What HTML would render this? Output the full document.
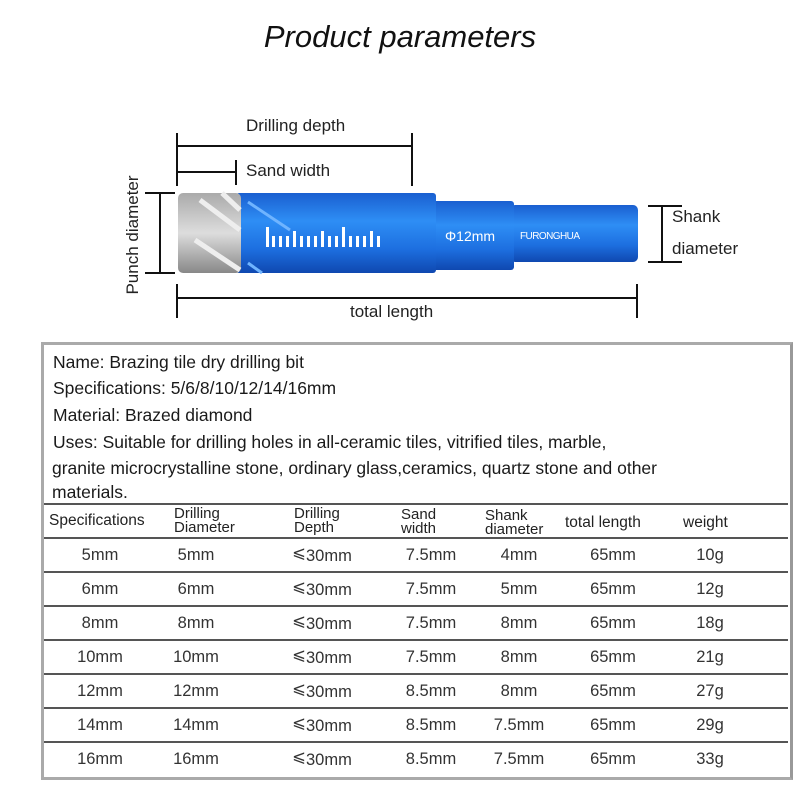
<!DOCTYPE html>
<html><head><meta charset="utf-8"><style>
body{margin:0;width:800px;height:800px;background:#fff;position:relative;font-family:"Liberation Sans","DejaVu Sans",sans-serif;color:#222;overflow:hidden}
.a{position:absolute;white-space:nowrap}
.info{font-size:17.5px;left:53px;color:#1a1a1a}
.c{position:absolute;text-align:center;font-size:16px;color:#333;transform:translateX(-50%);white-space:nowrap}
.h{position:absolute;font-size:15px;line-height:14px;color:#222}
.le{position:relative;top:-3px}
</style></head><body>
<div class="a" style="left:0;width:800px;top:19px;text-align:center;font-size:31px;font-style:italic;color:#111">Product parameters</div>
<svg width="800" height="340" style="position:absolute;left:0;top:0">
<defs>
<linearGradient id="b" x1="0" y1="0" x2="0" y2="1"><stop offset="0" stop-color="#1a5fd0"/><stop offset=".35" stop-color="#2e8ef5"/><stop offset=".7" stop-color="#1d6fe0"/><stop offset="1" stop-color="#0f48b0"/></linearGradient>
<linearGradient id="g" x1="0" y1="0" x2="0" y2="1"><stop offset="0" stop-color="#aaa"/><stop offset=".5" stop-color="#ddd"/><stop offset="1" stop-color="#888"/></linearGradient>
</defs>
<g stroke="#111" stroke-width="2" fill="none">
<line x1="177" y1="133" x2="177" y2="186"/><line x1="412" y1="133" x2="412" y2="186"/><line x1="177" y1="146" x2="412" y2="146"/>
<line x1="236" y1="160" x2="236" y2="185"/><line x1="177" y1="172" x2="236" y2="172"/>
<line x1="145" y1="193" x2="175" y2="193"/><line x1="145" y1="273" x2="175" y2="273"/><line x1="160" y1="193" x2="160" y2="273"/>
<line x1="177" y1="284" x2="177" y2="318"/><line x1="637" y1="284" x2="637" y2="318"/><line x1="177" y1="298" x2="637" y2="298"/>
<line x1="648" y1="206" x2="682" y2="206"/><line x1="648" y1="262" x2="682" y2="262"/><line x1="662" y1="206" x2="662" y2="262"/>
</g>
<rect x="510" y="205" width="128" height="57" rx="5" fill="url(#b)"/>
<rect x="432" y="201" width="82" height="69" rx="3" fill="url(#b)"/>
<rect x="236" y="193" width="200" height="80" rx="3" fill="url(#b)"/>
<rect x="178" y="193" width="63" height="80" rx="5" fill="url(#g)"/>
<path d="M200 200 L240 230 M195 240 L240 270 M222 193 L240 210" stroke="#eee" stroke-width="5"/>
<path d="M248 202 L290 230 M248 263 L262 273" stroke="#6fb4ff" stroke-width="3"/>
<g fill="#fff"><rect x="266" y="227" width="3" height="20"/><rect x="272" y="236" width="3" height="11"/><rect x="279" y="236" width="3" height="11"/><rect x="286" y="236" width="3" height="11"/><rect x="293" y="231" width="3" height="16"/><rect x="300" y="236" width="3" height="11"/><rect x="307" y="236" width="3" height="11"/><rect x="314" y="236" width="3" height="11"/><rect x="321" y="231" width="3" height="16"/><rect x="328" y="236" width="3" height="11"/><rect x="335" y="236" width="3" height="11"/><rect x="342" y="227" width="3" height="20"/><rect x="349" y="236" width="3" height="11"/><rect x="356" y="236" width="3" height="11"/><rect x="363" y="236" width="3" height="11"/><rect x="370" y="231" width="3" height="16"/><rect x="377" y="236" width="3" height="11"/></g>
<text x="445" y="241" fill="#fff" font-size="14" font-family="Liberation Sans">Φ12mm</text>
<text x="520" y="239" fill="#fff" font-size="10" font-family="Liberation Sans" textLength="60">FURONGHUA</text>
</svg>
<div class="a" style="left:246px;top:116px;font-size:17px">Drilling depth</div>
<div class="a" style="left:246px;top:161px;font-size:17px">Sand width</div>
<div class="a" style="left:350px;top:302px;font-size:17px">total length</div>
<div class="a" style="left:672px;top:207px;font-size:17px">Shank</div>
<div class="a" style="left:672px;top:239px;font-size:17px">diameter</div>
<div class="a" style="left:133px;top:235px;font-size:17px;transform:translate(-50%,-50%) rotate(-90deg)">Punch diameter</div>
<div style="position:absolute;left:41px;top:342px;width:746px;height:432px;border:3px solid #aaa;border-right-color:#999"></div>
<div class="a info" style="top:352px">Name: Brazing tile dry drilling bit</div>
<div class="a info" style="top:378px">Specifications: 5/6/8/10/12/14/16mm</div>
<div class="a info" style="top:405px">Material: Brazed diamond</div>
<div class="a info" style="top:432px">Uses: Suitable for drilling holes in all-ceramic tiles, vitrified tiles, marble,</div>
<div class="a info" style="top:458px;left:52px">granite microcrystalline stone, ordinary glass,ceramics, quartz stone and other</div>
<div class="a info" style="top:482px;left:52px">materials.</div>
<div style="position:absolute;left:44px;width:744px;top:503px;height:2px;background:#555"></div>
<div style="position:absolute;left:44px;width:744px;top:537px;height:2px;background:#555"></div>
<div style="position:absolute;left:44px;width:744px;top:571px;height:2px;background:#555"></div>
<div style="position:absolute;left:44px;width:744px;top:605px;height:2px;background:#555"></div>
<div style="position:absolute;left:44px;width:744px;top:639px;height:2px;background:#555"></div>
<div style="position:absolute;left:44px;width:744px;top:673px;height:2px;background:#555"></div>
<div style="position:absolute;left:44px;width:744px;top:707px;height:2px;background:#555"></div>
<div style="position:absolute;left:44px;width:744px;top:741px;height:2px;background:#555"></div>
<div class="a" style="left:49px;top:512px;font-size:15.5px">Specifications</div>
<div class="h" style="left:174px;top:507px">Drilling<br>Diameter</div>
<div class="h" style="left:294px;top:507px">Drilling<br>Depth</div>
<div class="h" style="left:401px;top:508px">Sand<br>width</div>
<div class="h" style="left:485px;top:509px">Shank<br>diameter</div>
<div class="a" style="left:565px;top:514px;font-size:15.5px">total length</div>
<div class="a" style="left:683px;top:514px;font-size:15.5px">weight</div>
<div id="rows"></div>
<script>
var d=[["5mm","5mm","7.5mm","4mm","10g"],["6mm","6mm","7.5mm","5mm","12g"],["8mm","8mm","7.5mm","8mm","18g"],["10mm","10mm","7.5mm","8mm","21g"],["12mm","12mm","8.5mm","8mm","27g"],["14mm","14mm","8.5mm","7.5mm","29g"],["16mm","16mm","8.5mm","7.5mm","33g"]];
var xs=[100,196,322,431,519,613,710],h="";
d.forEach(function(r,i){var y=546+i*34;var v=[r[0],r[1],'<span class="le">⩽</span>30mm',r[2],r[3],"65mm",r[4]];
v.forEach(function(t,j){h+='<div class="c" style="left:'+xs[j]+'px;top:'+y+'px;font-size:16.5px">'+t+'</div>';});});
document.getElementById("rows").innerHTML=h;
</script>
</body></html>
